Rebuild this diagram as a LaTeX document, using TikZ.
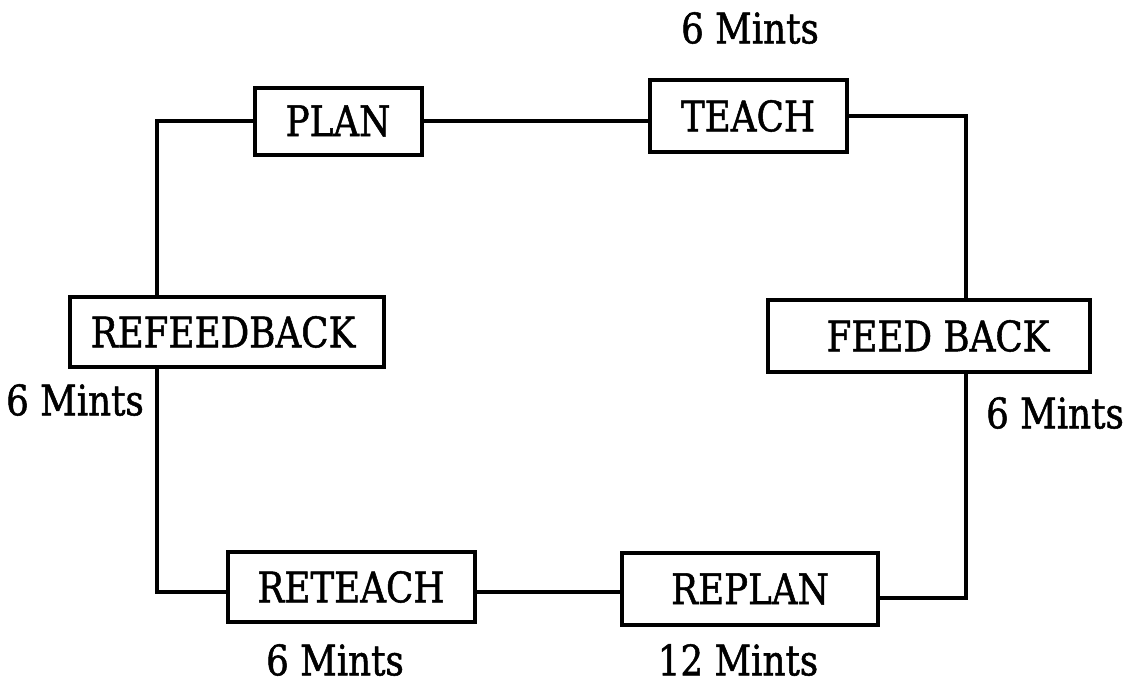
\documentclass[tikz,border=0pt]{standalone}
\usepackage{fontspec}
\setmainfont[FakeStretch=0.85,FakeBold=1.2]{DejaVu Serif}
\begin{document}
\begin{tikzpicture}[x=0.5pt,y=-0.5pt,
  box/.style={draw,line width=2pt,inner sep=0pt,outer sep=0pt,
    font=\fontsize{21}{24}\selectfont},
  lbl/.style={inner sep=0pt,font=\fontsize{21}{24}\selectfont},
  conn/.style={line width=1.6pt}]
\useasboundingbox (0,0) rectangle (1130,685);
\node[box,minimum width=83.5pt,minimum height=33.5pt] (plan) at (338,121) {PLAN};
\node[box,minimum width=98.5pt,minimum height=36pt] (teach) at (748,116) {TEACH};
\node[box,minimum width=157pt,minimum height=35pt] (refeed) at (227,332) {\hspace*{-4pt}REFEEDBACK};
\node[box,minimum width=161pt,minimum height=36pt] (feed) at (929,336) {\hspace*{9pt}FEED BACK};
\node[box,minimum width=123.5pt,minimum height=35pt] (reteach) at (351,587) {RETEACH};
\node[box,minimum width=128pt,minimum height=36pt] (replan) at (750,589) {REPLAN};
\coordinate (tl) at (157,121);
\coordinate (tr) at (966,116);
\coordinate (br) at (966,598);
\coordinate (bl) at (157,592);
\draw[conn] (plan.east) -- (plan.east -| teach.west);
\draw[conn] (teach.east) -- (tr) -- (tr |- feed.north);
\draw[conn] (feed.south -| br) -- (br) -- (replan.east |- br);
\draw[conn] (replan.west |- bl) -- (reteach.east |- bl);
\draw[conn] (reteach.west |- bl) -- (bl) -- (bl |- refeed.south);
\draw[conn] (tl |- refeed.north) -- (tl) -- (plan.west);
\node[lbl] (l1) at (750,28) {6 Mints};
\node[lbl] (l2) at (75,400) {6 Mints};
\node[lbl] (l3) at (1055,413) {6 Mints};
\node[lbl] (l4) at (335,660) {6 Mints};
\node[lbl] (l5) at (738,660) {12 Mints};
\end{tikzpicture}
\end{document}
